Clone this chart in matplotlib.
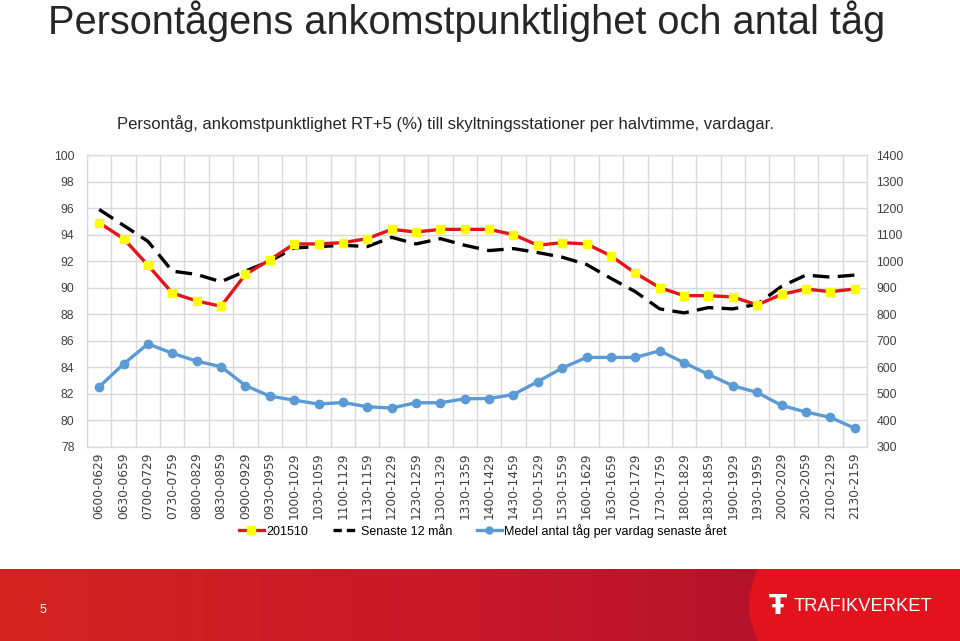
import numpy as np
import matplotlib
matplotlib.use("Agg")
import matplotlib.pyplot as plt
from matplotlib.lines import Line2D

# halvtimmar
slots = ["0600-0629", "0630-0659", "0700-0729", "0730-0759", "0800-0829", "0830-0859",
         "0900-0929", "0930-0959", "1000-1029", "1030-1059", "1100-1129", "1130-1159",
         "1200-1229", "1230-1259", "1300-1329", "1330-1359", "1400-1429", "1430-1459",
         "1500-1529", "1530-1559", "1600-1629", "1630-1659", "1700-1729", "1730-1759",
         "1800-1829", "1830-1859", "1900-1929", "1930-1959", "2000-2029", "2030-2059",
         "2100-2129", "2130-2159"]

punkt_201510 = [94.9, 93.7, 91.7, 89.6, 89.0, 88.6, 91.0, 92.1, 93.3, 93.3, 93.4, 93.7,
                94.4, 94.2, 94.4, 94.4, 94.4, 94.0, 93.2, 93.4, 93.3, 92.4, 91.1, 90.0,
                89.4, 89.4, 89.3, 88.7, 89.5, 89.9, 89.7, 89.9]

senaste_12 = [95.9, 94.7, 93.5, 91.25, 91.0, 90.45, 91.25, 92.0, 93.0, 93.1, 93.2, 93.1,
              93.8, 93.3, 93.7, 93.2, 92.8, 92.95, 92.65, 92.3, 91.75, 90.7, 89.7, 88.4,
              88.1, 88.5, 88.4, 88.75, 90.1, 90.95, 90.8, 90.95]

antal_tag = [526, 612, 688, 653, 623, 602, 531, 491, 476, 461, 467, 451, 446, 466, 466, 481,
             482, 497, 546, 597, 637, 637, 637, 662, 617, 573, 530, 505, 456, 431, 411, 370]

x = np.arange(len(slots))
grid_c = "#d9d9d9"
txt_c = "#404040"

fig = plt.figure(figsize=(9.6, 6.41), dpi=100)

# titel
fig.text(0.05, 0.967, "Persontågens ankomstpunktlighet och antal tåg", fontsize=28.6,
         family="Liberation Sans", color="#262626", va="center", ha="left")
fig.text(0.4635, 0.808, "Persontåg, ankomstpunktlighet RT+5 (%) till skyltningsstationer per halvtimme, vardagar.",
         fontsize=12, family="Liberation Sans", color="#262626",
         ha="center", va="center")

ax = fig.add_axes([0.0906, 0.303, 0.8124, 0.455])
ax2 = ax.twinx()

ax.plot(x, senaste_12, color="black", lw=2.4, dashes=(5, 2.5), zorder=3)
ax.plot(x, punkt_201510, color="#e3141b", lw=2.4, marker="s", ms=5.5, mfc="#ffff00",
        mec="#ffff00", zorder=4)
ax2.plot(x, antal_tag, color="#5b9bd5", lw=2.4, marker="o", ms=6, mfc="#5b9bd5", mec="#5b9bd5")

ax.set_ylim(78, 100)
ax.set_yticks(np.arange(78, 101, 2))
ax2.set_ylim(300, 1400)
ax2.set_yticks(np.arange(300, 1401, 100))
ax.set_xlim(-0.5, len(slots) - 0.5)
ax.set_xticks(x)
ax.set_xticklabels(slots, rotation=90, family="DejaVu Sans", fontsize=7.6, color=txt_c)
ax.set_xticks(np.arange(-0.5, len(slots), 1), minor=True)

ax.grid(axis="y", which="major", color=grid_c, lw=1)
ax.grid(axis="x", which="minor", color=grid_c, lw=1)
ax.set_axisbelow(True)
for a in (ax, ax2):
    a.tick_params(which="both", length=0, labelsize=8.8, labelcolor=txt_c, pad=7)
    for s in a.spines.values():
        s.set_color(grid_c)
for lab in ax.get_yticklabels() + ax2.get_yticklabels():
    lab.set_family("Liberation Sans")
ax.tick_params(axis="x", pad=4)
ax.tick_params(axis="y", pad=9)

handles = [Line2D([], [], color="#e3141b", lw=2.4, marker="s", ms=5.5, mfc="#ffff00", mec="#ffff00"),
           Line2D([], [], color="black", lw=2.4, dashes=(2.5, 1.5)),
           Line2D([], [], color="#5b9bd5", lw=2.4, marker="o", ms=5, mfc="#5b9bd5", mec="#5b9bd5")]
fig.legend(handles, ["201510", "Senaste 12 mån", "Medel antal tåg per vardag senaste året"],
           loc="center", bbox_to_anchor=(0.503, 0.172), ncol=3, frameon=False,
           handlelength=2.0, handletextpad=0.2, columnspacing=2.0,
           prop={"family": "Liberation Sans", "size": 9})

# röd list längst ner
band = fig.add_axes([0, 0, 1, 0.113])
grad = np.linspace(0, 1, 256)[None, :]
cmap = matplotlib.colors.LinearSegmentedColormap.from_list("band", ["#d42320", "#c8182a", "#a60d2b"])
band.imshow(grad, aspect="auto", cmap=cmap, extent=[0, 1, 0, 1])
bx = np.concatenate([[1.0], 0.790 - 0.009 * np.cos(np.linspace(0, np.pi, 50) - np.pi / 2), [1.0]])
by = np.concatenate([[1.0], np.linspace(1, 0, 50), [0.0]])
band.fill(bx, by, color="#e3131d")
band.set_xlim(0, 1)
band.set_ylim(0, 1)
band.axis("off")
band.text(0.045, 0.43, "5", color="white", fontsize=9, family="Liberation Sans", ha="center", va="center")
band.text(0.827, 0.48, "TRAFIKVERKET", color="white", fontsize=13.2, family="Liberation Sans",
          ha="left", va="center")
band.text(0.810, 0.47, "Ŧ", color="white", fontsize=19, family="DejaVu Sans", ha="center", va="center",
          fontweight="bold")

fig.savefig("out.png", dpi=100)
